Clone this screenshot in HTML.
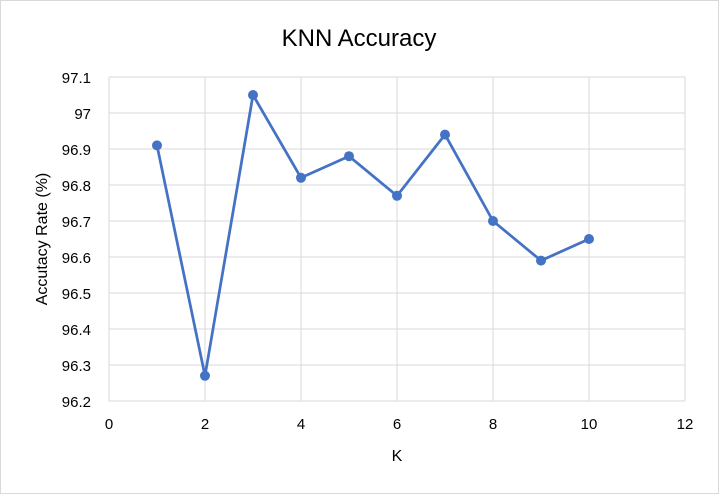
<!DOCTYPE html>
<html><head><meta charset="utf-8"><style>
body{margin:0;background:#fff;}
svg{display:block;font-family:"Liberation Sans",sans-serif;}
</style></head><body>
<svg width="719" height="494">
<rect x="0.5" y="0.5" width="718" height="493" fill="#fff" stroke="#d9d9d9"/>
<text x="359" y="46" text-anchor="middle" font-size="24" fill="#000">KNN Accuracy</text>
<g id="grid"></g>
<g id="yticks"></g>
<g id="xticks"></g>
<text transform="translate(47,239) rotate(-90)" text-anchor="middle" font-size="16" fill="#000">Accutacy Rate (%)</text>
<text x="397" y="461" text-anchor="middle" font-size="16" fill="#000">K</text>
<g id="series"></g>
</svg>
<script>
const kValues=[1,2,3,4,5,6,7,8,9,10];
const accuracy=[96.91,96.27,97.05,96.82,96.88,96.77,96.94,96.70,96.59,96.65];
const yTickLabels=["96.2","96.3","96.4","96.5","96.6","96.7","96.8","96.9","97","97.1"];
const xTickLabels=["0","2","4","6","8","10","12"];
const ns="http://www.w3.org/2000/svg";
const X=v=>109+(v-0)*(685-109)/12;
const Y=v=>401-(v-96.2)*(401-77)/0.9;
function mk(t,a,p){const e=document.createElementNS(ns,t);for(const k in a)e.setAttribute(k,a[k]);p.appendChild(e);return e;}
const grid=document.getElementById('grid'),yt=document.getElementById('yticks'),xt=document.getElementById('xticks'),s=document.getElementById('series');
yTickLabels.forEach(l=>{const v=parseFloat(l),y=Y(v);
const g=mk('line',{x1:X(0),x2:X(12),y1:y,y2:y,stroke:'#d9d9d9','stroke-width':1},grid);


const t=mk('text',{x:91,y:y+6,'text-anchor':'end','font-size':15,fill:'#000'},yt);t.textContent=l;

});
xTickLabels.forEach(l=>{const v=parseFloat(l),x=X(v);
const g=mk('line',{x1:x,x2:x,y1:Y(97.1),y2:Y(96.2),stroke:'#d9d9d9','stroke-width':1},grid);


const t=mk('text',{x:x,y:429,'text-anchor':'middle','font-size':15,fill:'#000'},xt);t.textContent=l;

});
const pts=kValues.map((k,i)=>X(k)+','+Y(accuracy[i])).join(' ');
const pl=mk('polyline',{points:pts,fill:'none',stroke:'#4472c4','stroke-width':2.75,'stroke-linejoin':'round'},s);


kValues.forEach((k,i)=>{const c=mk('circle',{cx:X(k),cy:Y(accuracy[i]),r:5,fill:'#4472c4'},s);

});
</script>
</body></html>
